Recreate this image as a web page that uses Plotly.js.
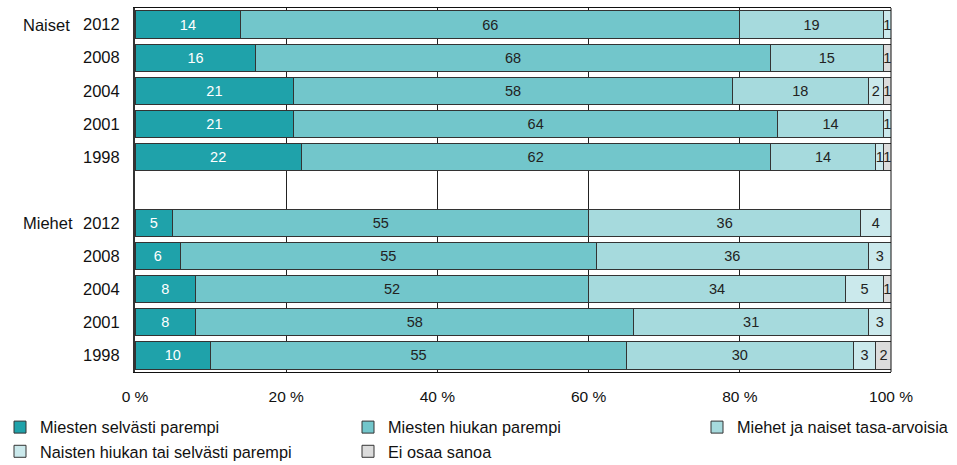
<!DOCTYPE html>
<html><head><meta charset="utf-8">
<script src="https://cdn.plot.ly/plotly-3.0.1.min.js"></script>
<style>body{margin:0;background:#fff}#chart{width:957px;height:465px}</style>
</head><body><div id="chart"></div>
<script>
// Rows top to bottom (a blank row separates the two groups)
const rowKeys = ['N2012','N2008','N2004','N2001','N1998','gap','M2012','M2008','M2004','M2001','M1998'];
const rowLabels = ['2012','2008','2004','2001','1998','','2012','2008','2004','2001','1998'];
const groupNames = ['Naiset','Miehet'];
const groupFirstRow = ['N2012','M2012'];

const seriesNames = ['Miesten selvästi parempi','Miesten hiukan parempi','Miehet ja naiset tasa-arvoisia','Naisten hiukan tai selvästi parempi','Ei osaa sanoa'];
// values per row (same order as rowKeys), null = no segment
const miestenSelvasti = [14,16,21,21,22,null,5,6,8,8,10];
const miestenHiukan   = [66,68,58,64,62,null,55,55,52,58,55];
const tasaArvoisia    = [19,15,18,14,14,null,36,36,34,31,30];
const naistenParempi  = [1,null,2,1,1,null,4,3,5,3,3];
const eiOsaa          = [null,1,1,null,1,null,null,null,1,null,2];
const seriesValues = [miestenSelvasti, miestenHiukan, tasaArvoisia, naistenParempi, eiOsaa];

const colors = ['#1fa2aa','#72c6cb','#a6dadd','#cbe9ec','#dcdcdc'];
const textColors = ['#ffffff','#222222','#222222','#222222','#222222'];
const legendIds = ['legend','legend2','legend3','legend','legend2'];

const FONT = 'Liberation Sans, Arial, sans-serif';

const traces = seriesNames.map((name, i) => ({
  type: 'bar', orientation: 'h', name: name,
  y: rowKeys, x: seriesValues[i],
  text: seriesValues[i].map(v => v == null ? '' : String(v)),
  textposition: 'inside', insidetextanchor: 'middle', textangle: 0,
  constraintext: 'none',
  insidetextfont: {family: FONT, size: 14.5, color: textColors[i]},
  marker: {color: colors[i], line: {color: '#333333', width: 1}},
  legend: legendIds[i], legendgroup: 'g' + i,
  hoverinfo: 'skip'
}));

const annotations = groupNames.map((g, i) => ({
  xref: 'paper', yref: 'y', x: 0, y: groupFirstRow[i], xshift: -114,
  xanchor: 'left', yanchor: 'middle', showarrow: false,
  text: g, font: {family: FONT, size: 16.5, color: '#111'}
}));

const legendBase = {
  orientation: 'v', xref: 'container', yref: 'container',
  xanchor: 'left', yanchor: 'top', y: 1 - 410/465,
  font: {family: FONT, size: 16.3, color: '#111'},
  bgcolor: 'rgba(0,0,0,0)', tracegroupgap: 0, itemwidth: 30
};

const layout = {
  width: 957, height: 465,
  margin: {l: 135, r: 66, t: 8, b: 93, autoexpand: false},
  paper_bgcolor: '#fff', plot_bgcolor: '#fff',
  barmode: 'stack', bargap: 0.18,
  showlegend: true,
  xaxis: {
    range: [0, 100], tickvals: [0,20,40,60,80,100], ticktext: ['0 %','20 %','40 %','60 %','80 %','100 %'],
    tickangle: 0,
    showgrid: true, gridcolor: '#222', gridwidth: 1,
    showline: true, linecolor: '#111', linewidth: 1, mirror: true,
    zeroline: false, ticks: '', ticklabelstandoff: 10,
    tickfont: {family: FONT, size: 15.5, color: '#111'}
  },
  yaxis: {
    type: 'category', categoryorder: 'array', categoryarray: rowKeys,
    tickvals: rowKeys, ticktext: rowLabels, autorange: 'reversed',
    showgrid: false, showline: true, linecolor: '#333', linewidth: 2,
    zeroline: false, ticks: '', ticklabelstandoff: 10,
    tickfont: {family: FONT, size: 16.5, color: '#111'}
  },
  shapes: [{type: 'line', xref: 'paper', yref: 'paper', x0: 1, x1: 1, y0: 0, y1: 1, line: {color: '#111', width: 1}}],
  annotations: annotations,
  legend: Object.assign({}, legendBase, {x: 0}),
  legend2: Object.assign({}, legendBase, {x: 348/957}),
  legend3: Object.assign({}, legendBase, {x: 697/957})
};

Plotly.newPlot('chart', traces, layout, {displayModeBar: false, staticPlot: true});
</script></body></html>
